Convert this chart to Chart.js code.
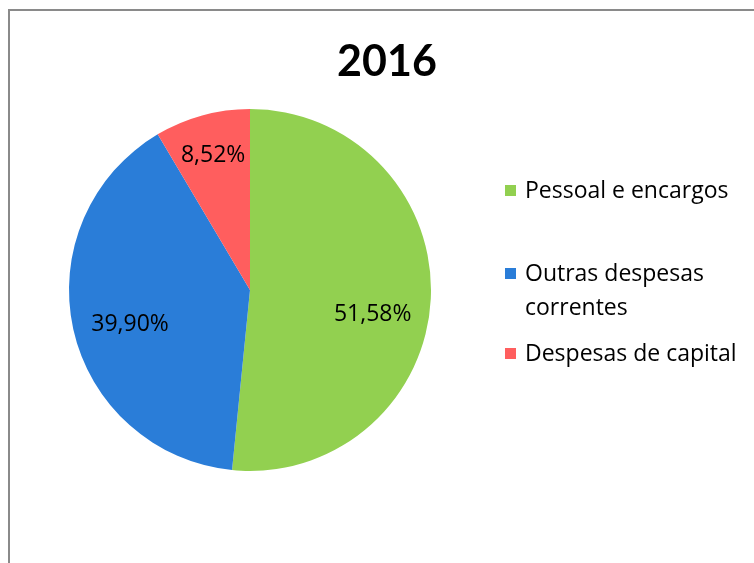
<!DOCTYPE html>
<html>
<head>
<meta charset="utf-8">
<script src="https://cdn.jsdelivr.net/npm/chart.js@4"></script>
<style>
  body { margin: 0; background: #fff; }
  #wrap { width: 754px; height: 563px; }
</style>
</head>
<body>
<div id="wrap"><canvas id="chartPie" width="754" height="563"></canvas></div>
<script>
const chartTitle = "2016";
const categories = ["Pessoal e encargos", "Outras despesas correntes", "Despesas de capital"];
const legendLines = [["Pessoal e encargos"], ["Outras despesas", "correntes"], ["Despesas de capital"]];
const values = [51.58, 39.90, 8.52];
const colors = ["rgb(146, 208, 80)", "rgb(42, 125, 216)", "rgb(255, 94, 94)"];

const FONT = "'Open Sans', Lato, sans-serif";

// border, title, labels and the legend are drawn by hand
const decorPlugin = {
  id: "decor",
  afterDraw(chart) {
    const ctx = chart.ctx;
    ctx.save();
    ctx.strokeStyle = "#8a8a8a";
    ctx.lineWidth = 2;
    ctx.beginPath();
    ctx.moveTo(9, 570);
    ctx.lineTo(9, 10);
    ctx.lineTo(760, 10);
    ctx.stroke();

    ctx.fillStyle = "#000";
    ctx.font = "bold 43px Lato, sans-serif";
    ctx.textAlign = "center";
    ctx.textBaseline = "middle";
    ctx.fillText(chartTitle, 387, 62);

    // percentage labels inside slices
    ctx.font = "23px " + FONT;
    const meta = chart.getDatasetMeta(0);
    const dy = [18, 7, 0];
    const dx = [-2, 2, 0];
    meta.data.forEach((arc, i) => {
      const mid = (arc.startAngle + arc.endAngle) / 2;
      const r = arc.outerRadius * (i === 2 ? 0.77 : 0.69);
      const x = arc.x + Math.cos(mid) * r + dx[i];
      const y = arc.y + Math.sin(mid) * r + dy[i];
      ctx.fillText(values[i].toFixed(2).replace(".", ",") + "%", x, y);
    });

    // legend
    const rows = [191, 274, 354];
    ctx.font = "23px " + FONT;
    ctx.textAlign = "left";
    legendLines.forEach((lines, i) => {
      ctx.fillStyle = colors[i];
      ctx.fillRect(505, rows[i] - 6, 11, 11);
      ctx.fillStyle = "#000";
      lines.forEach((t, j) => ctx.fillText(t, 525, rows[i] + j * 34));
    });
    ctx.restore();
  }
};

new Chart(document.getElementById("chartPie"), {
  type: "pie",
  data: {
    labels: categories,
    datasets: [{
      data: values,
      backgroundColor: colors,
      borderWidth: 0,
      hoverOffset: 0
    }]
  },
  options: {
    responsive: false,
    animation: false,
    layout: { padding: { left: 69, right: 323, top: 109, bottom: 92 } },
    plugins: {
      legend: { display: false },
      title: { display: false },
      tooltip: { enabled: false }
    }
  },
  plugins: [decorPlugin]
});
</script>
</body>
</html>
